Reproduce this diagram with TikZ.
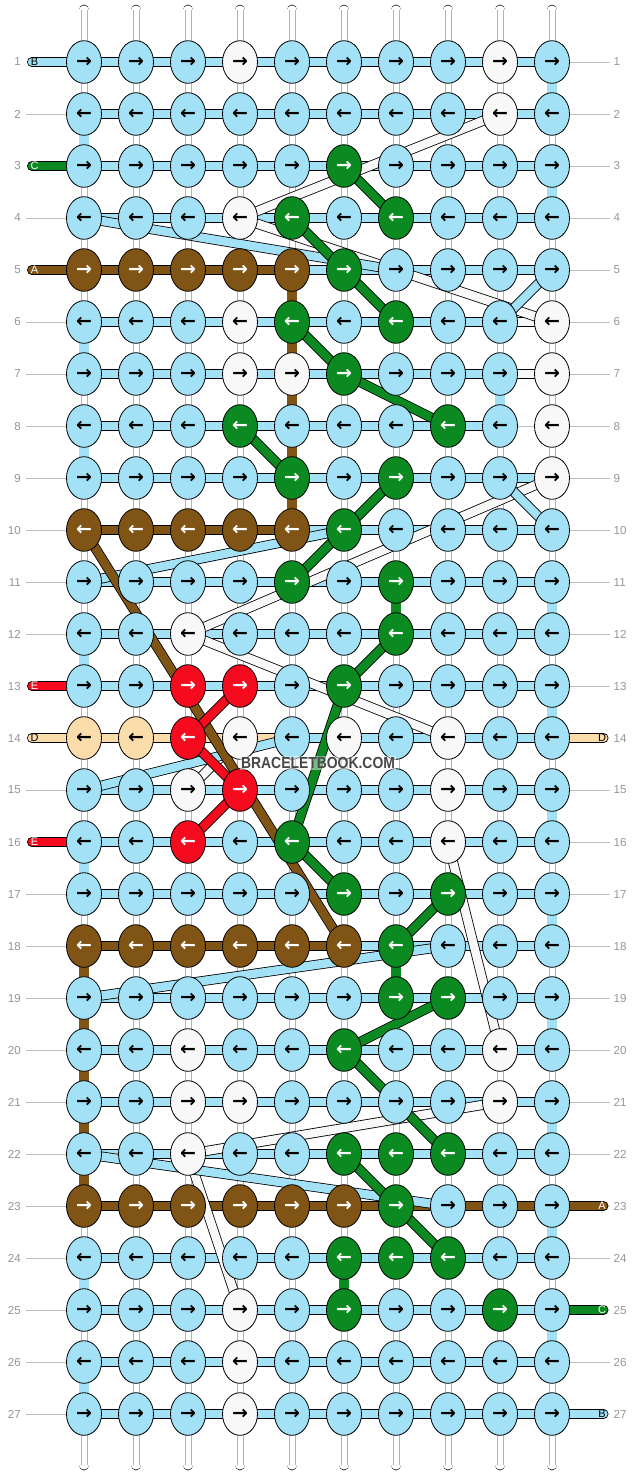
\documentclass[tikz,border=0pt]{standalone}
\usepackage{fontspec}
\setmainfont{Liberation Sans}
\newfontfamily\arrowfont{DejaVu Sans}
\usetikzlibrary{shapes.geometric}
\pgfdeclarelayer{warp}
\pgfdeclarelayer{bars}
\pgfdeclarelayer{bands}
\pgfsetlayers{warp,bars,bands,main}
\definecolor{cB}{RGB}{163,226,246}
\definecolor{cW}{RGB}{248,248,248}
\definecolor{cG}{RGB}{10,138,32}
\definecolor{cN}{RGB}{128,84,20}
\definecolor{cR}{RGB}{246,10,30}
\definecolor{cT}{RGB}{251,221,171}
\definecolor{cNum}{RGB}{150,150,150}
\definecolor{cLine}{RGB}{190,190,190}
\newcommand\knotfont{\arrowfont\bfseries\fontsize{19}{19}\selectfont}
\newcommand\leadfont{\fontsize{11}{11}\selectfont}
\newcommand\numfont{\fontsize{11.6}{11.6}\selectfont}
\newcommand\wmfont{\bfseries\fontsize{16}{16}\selectfont}
\tikzset{
 knot/.style={ellipse, draw=black, line width=0.8, minimum width=35, minimum height=42.6, inner sep=0, font=\knotfont},
 kb/.style={knot, fill=cB, text=black},
 kw/.style={knot, fill=cW, text=black},
 kg/.style={knot, fill=cG, text=white},
 kn/.style={knot, fill=cN, text=white},
 kr/.style={knot, fill=cR, text=white},
 kt/.style={knot, fill=cT, text=black},
 hbar/.style={draw=black, line width=0.8, double distance=8.4},
 vbar/.style={draw=black, line width=0.8, double distance=9.1},
 band/.style={draw=black, line width=0.8, double distance=8.4},
 numlab/.style={font=\numfont, text=cNum, inner sep=0},
 leadlab/.style={font=\leadfont, inner sep=0},
 gline/.style={draw=cLine, line width=0.9},
}
\begin{document}
\begin{tikzpicture}[x=1pt,y=-1pt]
\useasboundingbox (0,0) rectangle (636,1476);
% knots
\foreach \row [count=\r] in {
 {b,b,b,w,b,b,b,b,w,b},
 {b,b,b,b,b,b,b,b,w,b},
 {b,b,b,b,b,g,b,b,b,b},
 {b,b,b,w,g,b,g,b,b,b},
 {n,n,n,n,n,g,b,b,b,b},
 {b,b,b,w,g,b,g,b,b,w},
 {b,b,b,w,w,g,b,b,b,w},
 {b,b,b,g,b,b,b,g,b,w},
 {b,b,b,b,g,b,g,b,b,w},
 {n,n,n,n,n,g,b,b,b,b},
 {b,b,b,b,g,b,g,b,b,b},
 {b,b,w,b,b,b,g,b,b,b},
 {b,b,r,r,b,g,b,b,b,b},
 {t,t,r,w,b,w,b,w,b,b},
 {b,b,w,r,b,b,b,w,b,b},
 {b,b,r,b,g,b,b,w,b,b},
 {b,b,b,b,b,g,b,g,b,b},
 {n,n,n,n,n,n,g,b,b,b},
 {b,b,b,b,b,b,g,g,b,b},
 {b,b,w,b,b,g,b,b,w,b},
 {b,b,w,w,b,b,b,b,w,b},
 {b,b,w,b,b,g,g,g,b,b},
 {n,n,n,n,n,n,g,b,b,b},
 {b,b,b,b,b,g,g,g,b,b},
 {b,b,b,w,b,g,b,b,g,b},
 {b,b,b,w,b,b,b,b,b,b},
 {b,b,b,w,b,b,b,b,b,b}}{
 \pgfmathtruncatemacro\odd{mod(\r,2)}
 \foreach \k [count=\c] in \row {
  \node[k\k] (k\r-\c) at ({84+52*(\c-1)},{62+52*(\r-1)}) {\ifnum\odd=1 →\else ←\fi};
 }
}
% warp strands
\begin{pgfonlayer}{warp}
\fill[white] (0,0) rectangle (636,1476);
\foreach \c in {1,...,10}{
 \coordinate (wt\c) at ({84+52*(\c-1)},10);
 \coordinate (wb\c) at ({84+52*(\c-1)},1465);
 \draw[line width=10.7, line cap=round] (wt\c) -- (wb\c);
 \draw[line width=9.1, white, line cap=round] (wt\c) -- (wb\c);
 \draw[line width=0.6, black!30, transform canvas={xshift=-3pt}] (wt\c) -- (wb\c);
 \draw[line width=0.6, black!30, transform canvas={xshift=3pt}] (wt\c) -- (wb\c);
}
\end{pgfonlayer}
% row bars, vertical segments, leads, labels
\begin{pgfonlayer}{bars}
\foreach \c/\r/\col in {10/1/cB,1/2/cB,10/3/cB,1/6/cB,9/7/cB,1/8/cB,10/11/cB,1/12/cB,10/13/cB,10/15/cB,1/16/cB,10/17/cB,10/19/cB,10/21/cB,10/23/cB,1/24/cB,10/25/cB,1/26/cB,
 5/5/cN,5/6/cN,5/7/cN,5/8/cN,5/9/cN,1/18/cN,1/19/cN,1/20/cN,1/21/cN,1/22/cN,7/11/cG,7/18/cG,6/24/cG}{
 \pgfmathtruncatemacro\rn{\r+1}
 \draw[vbar, double=\col] (k\r-\c.center) -- (k\rn-\c.center);
}
\foreach \r in {1,...,27}{
 \foreach \c in {1,...,9}{
  \pgfmathtruncatemacro\cn{\c+1}
  \ifnum\r\c=89 \else
  \draw[hbar, double=cB] (k\r-\c.center) -- (k\r-\cn.center);
  \fi
 }
}
\foreach \r/\c/\col in {5/1/cN,5/2/cN,5/3/cN,5/4/cN,10/1/cN,10/2/cN,10/3/cN,10/4/cN,
 18/1/cN,18/2/cN,18/3/cN,18/4/cN,18/5/cN,
 23/1/cN,23/2/cN,23/3/cN,23/4/cN,23/5/cN,23/6/cN,23/7/cN,23/8/cN,23/9/cN,
 14/1/cT,14/2/cT,14/3/cT,14/4/cT,6/9/cW,7/9/cW}{
 \pgfmathtruncatemacro\cn{\c+1}
 \draw[hbar, double=\col] (k\r-\c.center) -- (k\r-\cn.center);
}
\draw[gline] (k8-9.east) -- (k8-10.west);
% left leads
\foreach \r/\col/\tc/\lab in {1/cB/black/B,3/cG/white/C,5/cN/white/A,13/cR/white/E,14/cT/black/D,16/cR/white/E}{
 \coordinate (le\r) at (32,{62+52*(\r-1)});
 \draw[line width=10, line cap=round] (le\r) -- (k\r-1.center);
 \draw[line width=8.4, line cap=round, \col] (le\r) -- (k\r-1.center);
 \node[leadlab, text=\tc] (ll\r) at (34.5,{62+52*(\r-1)}) {\lab};
}
% right leads
\foreach \r/\col/\tc/\lab in {14/cT/black/D,23/cN/white/A,25/cG/white/C,27/cB/black/B}{
 \coordinate (re\r) at (603.5,{62+52*(\r-1)});
 \draw[line width=10, line cap=round] (k\r-10.center) -- (re\r);
 \draw[line width=8.4, line cap=round, \col] (k\r-10.center) -- (re\r);
 \node[leadlab, text=\tc] (rl\r) at (602,{62+52*(\r-1)}) {\lab};
}
% row numbers and guide lines
\foreach \r in {1,...,27}{
 \node[numlab, anchor=east] (nl\r) at (21,{62+52*(\r-1)}) {\r};
 \node[numlab, anchor=west] (nr\r) at (613.5,{62+52*(\r-1)}) {\r};
}
\foreach \r in {2,4,6,7,8,9,10,11,12,15,17,18,19,20,21,22,23,24,25,26,27}{
 \coordinate (gl\r) at (26,{62+52*(\r-1)});
 \draw[gline] (gl\r) -- (k\r-1.west);
}
\foreach \r in {1,2,3,4,5,6,7,8,9,10,11,12,13,15,16,17,18,19,20,21,22,24,26}{
 \coordinate (gr\r) at (610,{62+52*(\r-1)});
 \draw[gline] (k\r-10.east) -- (gr\r);
}
\end{pgfonlayer}
% diagonal strings
\begin{pgfonlayer}{bands}
\foreach \a/\b in {2-9/4-4,4-4/6-10,9-10/12-3,12-3/14-8,14-4/15-3,16-8/20-9,21-9/22-3,22-3/25-4}{
 \draw[band, double=cW] (k\a.center) -- (k\b.center);
}
\foreach \a/\b in {4-1/5-7,5-10/6-9,9-9/10-10,11-1/10-6,15-1/14-5,19-1/18-8,22-1/23-8}{
 \draw[band, double=cB] (k\a.center) -- (k\b.center);
}
\foreach \a/\b in {3-6/4-7,4-5/5-6,5-6/6-7,6-5/7-6,7-6/8-8,8-4/9-5,9-7/10-6,10-6/11-5,12-7/13-6,13-6/16-5,16-5/17-6,17-8/18-7,19-8/20-6,20-6/22-8,22-6/23-7,23-7/24-8}{
 \draw[band, double=cG] (k\a.center) -- (k\b.center);
}
\draw[band, double=cN] (k10-1.center) -- (k18-6.center);
\foreach \a/\b in {13-4/14-3,14-3/15-4,15-4/16-3}{
 \draw[band, double=cR] (k\a.center) -- (k\b.center);
}
\end{pgfonlayer}
\node[font=\wmfont, text=black!72, fill=white, fill opacity=0.45, text opacity=1, inner sep=1, xscale=0.87] (wm) at (318,763) {BRACELETBOOK.COM};
\end{tikzpicture}
\end{document}
